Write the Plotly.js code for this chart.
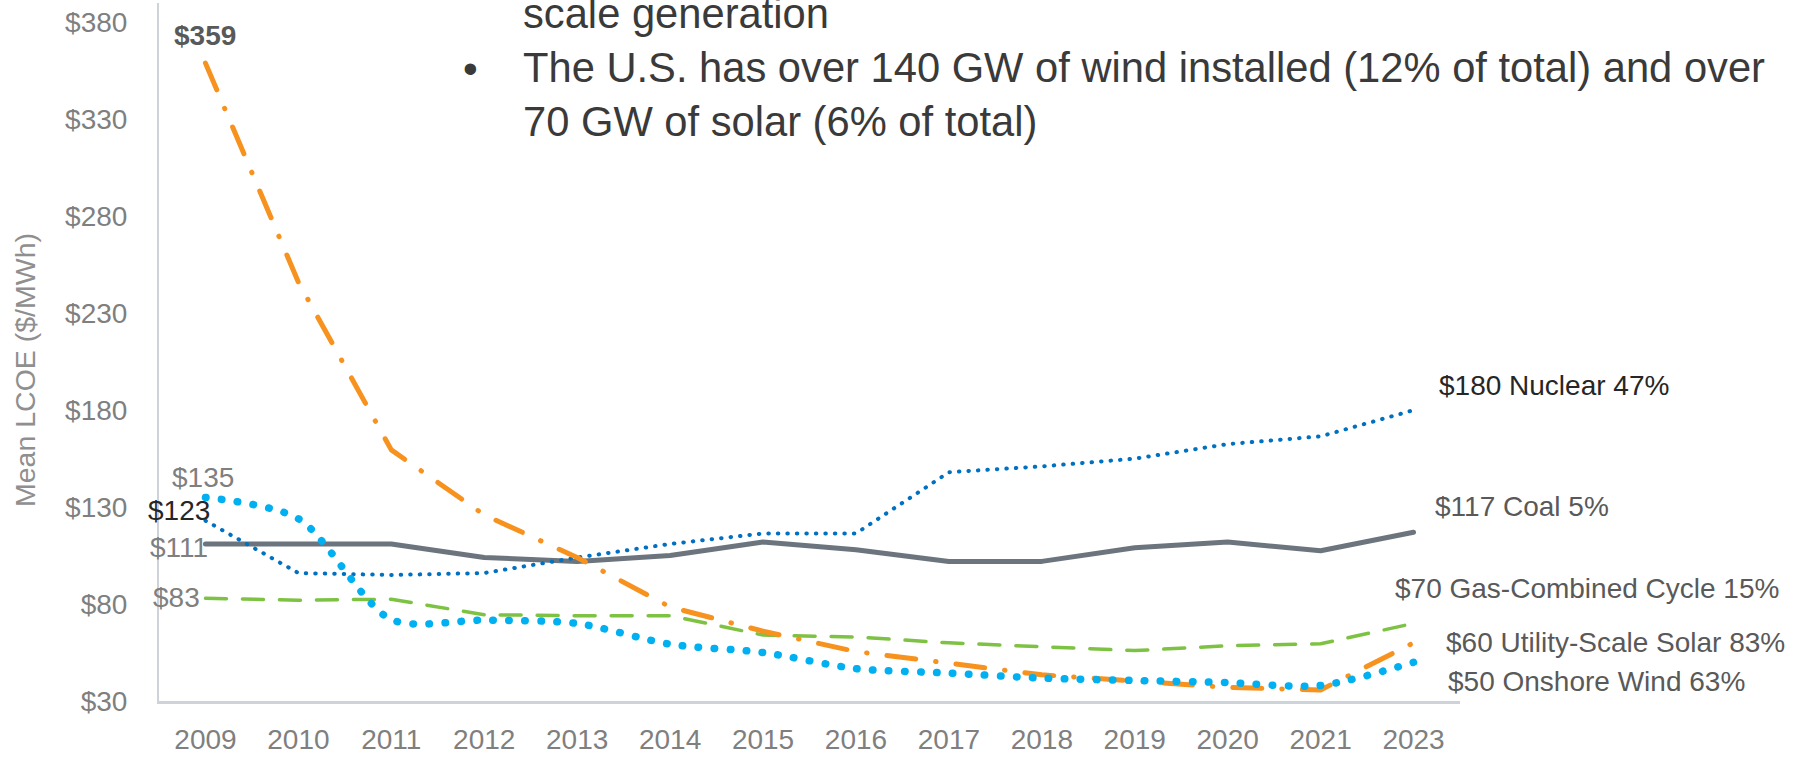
<!DOCTYPE html>
<html>
<head>
<meta charset="utf-8">
<script src="https://cdn.plot.ly/plotly-3.0.1.min.js"></script>
<style>
  html, body { margin: 0; padding: 0; background: #ffffff; }
  #chart { width: 1804px; height: 757px; }
  .scatterlayer .js-line { stroke-linecap: round; stroke-linejoin: round; }
</style>
</head>
<body>
<div id="chart"></div>
<script>
// ---- data ----
const years   = ['2009','2010','2011','2012','2013','2014','2015','2016','2017','2018','2019','2020','2021','2023'];
const coal    = [111, 111, 111, 104, 102, 105, 112, 108, 102, 102, 109, 112, 107.5, 117];
const nuclear = [123, 96, 95, 96, 104, 111, 116.4, 116.4, 148, 151, 155, 162.5, 166.5, 180];
const gas     = [83, 82, 82.5, 74.5, 74, 74, 64, 63, 60, 58, 56, 58.5, 59.5, 70];
const solar   = [359, 246, 159.5, 126, 104, 78.5, 66, 55.5, 49.5, 43.5, 40.3, 37, 35.7, 60];
const wind    = [135, 124, 72, 71.7, 70, 59.3, 55, 46.7, 44.4, 41.8, 40.6, 39.5, 38, 50];

const seriesNames  = ['Coal', 'Nuclear', 'Gas-Combined Cycle', 'Utility-Scale Solar', 'Onshore Wind'];
const seriesShares = ['5%', '47%', '15%', '83%', '63%'];
const yTickVals    = [30, 80, 130, 180, 230, 280, 330, 380];
const yTickText    = ['$30', '$80', '$130', '$180', '$230', '$280', '$330', '$380'];
const yTitle       = 'Mean LCOE ($/MWh)';
const noteLines    = ['scale generation',
                      'The U.S. has over 140 GW of wind installed (12% of total) and over',
                      '70 GW of solar (6% of total)'];

// ---- styling ----
const FONT = 'Arial, "Liberation Sans", sans-serif';
const series = [
  {y: coal,    name: seriesNames[0], share: seriesShares[0], line: {color: '#6C757D', width: 5}},
  {y: nuclear, name: seriesNames[1], share: seriesShares[1], line: {color: '#0070C0', width: 4, dash: '0.5px,9px'}},
  {y: gas,     name: seriesNames[2], share: seriesShares[2], line: {color: '#7DC242', width: 3.5, dash: '21px,16px'}},
  {y: solar,   name: seriesNames[3], share: seriesShares[3], line: {color: '#F7921E', width: 5, dash: '29px,20px,0.5px,20px'}},
  {y: wind,    name: seriesNames[4], share: seriesShares[4], line: {color: '#00B0F0', width: 7.5, dash: '0.5px,15.5px', shape: 'spline', smoothing: 0.8}}
];

const traces = series.map(s => ({
  type: 'scatter', mode: 'lines', x: years, y: s.y, name: s.name,
  line: s.line, hoverinfo: 'skip', showlegend: false
}));

// category positions (serial numbers on the category axis)
const firstIdx = 0;
const lastIdx = years.length - 1;
const fmt = v => '$' + Math.round(v);

// start labels (2009)
const startLabelStyle = [
  {xanchor: 'right',  xshift: 4.5,  yshift: -4, color: '#7F7F7F', bold: false},   // coal
  {xanchor: 'right',  xshift: 6.5,  yshift: 10, color: '#262626', bold: false},   // nuclear
  {xanchor: 'right',  xshift: -3.5, yshift: 1,  color: '#7F7F7F', bold: false},   // gas
  {xanchor: 'center', xshift: 0,    yshift: 28, color: '#595959', bold: true},    // solar
  {xanchor: 'center', xshift: -2,   yshift: 20, color: '#7F7F7F', bold: false}    // wind
];
// end labels (2023)
const endLabelStyle = [
  {xshift: 19.5,  yshift: 26, color: '#595959'},
  {xshift: 23.5,  yshift: 25, color: '#262626'},
  {xshift: -20.5, yshift: 35, color: '#595959'},
  {xshift: 30.5,  yshift: 0,  color: '#595959'},
  {xshift: 32.5,  yshift: -19, color: '#595959'}
];

const annotations = [];
series.forEach((s, i) => {
  const st = startLabelStyle[i];
  annotations.push({
    x: firstIdx, y: s.y[0], xref: 'x', yref: 'y', showarrow: false,
    text: st.bold ? '<b>' + fmt(s.y[0]) + '</b>' : fmt(s.y[0]),
    xanchor: st.xanchor, yanchor: 'middle', xshift: st.xshift, yshift: st.yshift,
    font: {family: FONT, size: 28, color: st.color}
  });
  const en = endLabelStyle[i];
  annotations.push({
    x: lastIdx, y: s.y[s.y.length - 1], xref: 'x', yref: 'y', showarrow: false,
    text: fmt(s.y[s.y.length - 1]) + ' ' + s.name + ' ' + s.share,
    xanchor: 'left', yanchor: 'middle', xshift: en.xshift, yshift: en.yshift,
    font: {family: FONT, size: 28, color: en.color}
  });
});

// plot-area geometry in pixels
const L = 159, R = 1460, T = 3, B = 701;
const px2x = p => (p - L) / (R - L);
const py2y = p => (B - p) / (B - T);

// y-axis title (rotated)
annotations.push({
  xref: 'paper', yref: 'paper', x: px2x(25), y: py2y(370), showarrow: false,
  text: yTitle, textangle: -90, xanchor: 'center', yanchor: 'middle',
  font: {family: FONT, size: 28.5, color: '#8F8F8F'}
});

// slide text above the chart (partly cut off at the top)
annotations.push({
  xref: 'paper', yref: 'paper', x: px2x(521), y: py2y(67), showarrow: false,
  text: noteLines.join('<br>'), align: 'left', xanchor: 'left', yanchor: 'middle',
  font: {family: FONT, size: 41.7, color: '#3A3A3A'}
});
annotations.push({
  xref: 'paper', yref: 'paper', x: px2x(470), y: py2y(68), showarrow: false,
  text: '•', xanchor: 'center', yanchor: 'middle',
  font: {family: FONT, size: 42, color: '#3A3A3A'}
});

const layout = {
  width: 1804, height: 757,
  margin: {l: L, r: 1804 - R, t: T, b: 757 - B, pad: 0},
  paper_bgcolor: '#ffffff', plot_bgcolor: '#ffffff',
  showlegend: false,
  xaxis: {
    type: 'category', categoryorder: 'array', categoryarray: years,
    range: [-0.5, years.length - 0.5], autorange: false,
    showgrid: false, zeroline: false, showline: true, linecolor: '#CDD3D8', linewidth: 3,
    ticks: '', ticklabelstandoff: 11,
    tickfont: {family: FONT, size: 28, color: '#7F7F7F'}
  },
  yaxis: {
    range: [30, 390], autorange: false, tickvals: yTickVals, ticktext: yTickText,
    showgrid: false, zeroline: false, showline: true, linecolor: '#CDD3D8', linewidth: 2,
    ticks: '', ticklabelstandoff: 24,
    tickfont: {family: FONT, size: 28, color: '#7F7F7F'}
  },
  annotations: annotations
};

Plotly.newPlot('chart', traces, layout, {displayModeBar: false, staticPlot: true});
</script>
</body>
</html>
